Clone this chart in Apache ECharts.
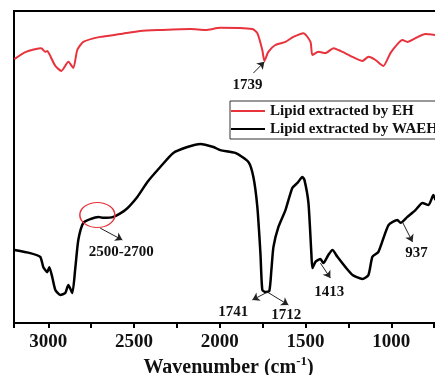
<!DOCTYPE html>
<html>
<head>
<meta charset="utf-8">
<script src="https://cdn.jsdelivr.net/npm/echarts@6/dist/echarts.min.js"></script>
<style>
  html, body { margin: 0; padding: 0; background: #fff; }
  #ftirChart { width: 435px; height: 375px; }
</style>
</head>
<body>
<div id="ftirChart"></div>
<script>
// spectra (transmittance, arbitrary units 0-100)
const ehWavenumber = [3198, 3130, 3041, 3018, 3006, 2994, 2959, 2924, 2883, 2854, 2831, 2796, 2697, 2580, 2463, 2347, 2172, 2084, 1997, 1810, 1781, 1752, 1740, 1717, 1676, 1617, 1571, 1512, 1471, 1460, 1425, 1384, 1337, 1296, 1226, 1168, 1133, 1092, 1046, 1005, 964, 935, 906, 859, 801, 742];
const ehSignal = [84.6, 86.9, 88.1, 86.9, 87.2, 86.2, 82.4, 80.8, 83.7, 81.7, 87.5, 90.1, 91.7, 92.6, 93.6, 93.9, 94.2, 93.9, 94.6, 94.2, 92.9, 87.5, 84.0, 86.9, 89.1, 90.1, 91.7, 92.9, 90.1, 85.9, 86.9, 86.5, 88.1, 87.2, 85.3, 84.0, 85.3, 84.3, 82.4, 86.5, 89.4, 90.7, 90.1, 91.3, 92.6, 92.3];

const waehWavenumber = [3198, 3105, 3047, 3029, 3006, 2994, 2977, 2959, 2930, 2901, 2883, 2860, 2842, 2825, 2796, 2755, 2708, 2679, 2621, 2551, 2481, 2422, 2347, 2271, 2189, 2113, 2037, 1997, 1909, 1833, 1804, 1781, 1763, 1752, 1734, 1711, 1699, 1687, 1658, 1617, 1577, 1547, 1518, 1506, 1483, 1466, 1460, 1442, 1413, 1396, 1367, 1343, 1314, 1267, 1226, 1168, 1133, 1110, 1075, 1016, 964, 946, 906, 859, 818, 783, 754, 742];
const waehSignal = [23.4, 22.4, 21.2, 17.9, 16.3, 17.9, 14.7, 10.6, 9.0, 9.6, 12.2, 9.6, 17.9, 26.6, 32.1, 33.3, 34.0, 33.7, 34.0, 36.2, 40.4, 45.2, 50.0, 54.5, 56.4, 57.4, 56.4, 55.4, 54.5, 51.6, 46.8, 37.2, 22.4, 10.6, 9.9, 10.3, 17.0, 24.4, 30.8, 36.2, 43.3, 44.9, 46.8, 45.8, 38.5, 22.4, 17.6, 19.6, 20.5, 19.2, 21.8, 23.4, 21.2, 17.9, 15.4, 14.1, 15.4, 21.2, 22.8, 31.4, 33.0, 32.1, 34.0, 36.2, 38.5, 37.8, 41.0, 39.4];

const xTicks = [3000, 2500, 2000, 1500, 1000];

const seriesNames = ['Lipid extracted by EH', 'Lipid extracted by WAEH'];

const serif = '"Times New Roman", "Liberation Serif", serif';
const red = '#e8323c';

const zip = (xs, ys) => xs.map((x, i) => [x, ys[i]]);

const arrow = (from, to) => [
  { coord: from, symbol: 'none' },
  { coord: to, symbol: 'arrow' }
];

const note = (text, coord) => ({
  coord: coord,
  symbol: 'circle',
  symbolSize: 0,
  label: {
    show: true,
    position: 'inside',
    formatter: text,
    color: '#111',
    fontFamily: serif,
    fontWeight: 'bold',
    fontSize: 15
  }
});

const markLineStyle = {
  silent: true,
  animation: false,
  symbolSize: 7,
  lineStyle: { color: '#222', width: 1, type: 'solid' },
  label: { show: false }
};

const chart = echarts.init(document.getElementById('ftirChart'));

const option = {
  animation: false,
  grid: {
    left: 14,
    top: 11,
    bottom: 52,
    right: -42,
    outerBoundsMode: 'none',
    containLabel: false,
    show: true,
    borderColor: '#000',
    borderWidth: 2
  },
  legend: {
    orient: 'vertical',
    left: 230,
    top: 101,
    icon: 'rect',
    itemWidth: 34,
    itemHeight: 2,
    itemGap: 2,
    padding: [2, 30, 2, 1],
    borderColor: '#333',
    borderWidth: 1,
    textStyle: {
      fontFamily: serif,
      fontWeight: 'bold',
      fontSize: 15,
      lineHeight: 16,
      color: '#111'
    },
    data: seriesNames
  },
  xAxis: {
    type: 'value',
    inverse: true,
    min: 500,
    max: 3200,
    interval: 250,
    axisLine: { show: true, lineStyle: { color: '#000', width: 2 } },
    axisTick: { show: true, length: 5, lineStyle: { color: '#000', width: 2 } },
    splitLine: { show: false },
    axisLabel: {
      margin: 10,
      color: '#111',
      fontFamily: serif,
      fontWeight: 'bold',
      fontSize: 19,
      formatter: value => (xTicks.includes(value) ? String(value) : '')
    },
    name: '{a|Wavenumber (cm}{s|-1}{a|)}',
    nameLocation: 'middle',
    nameGap: 32,
    nameMoveOverlap: false,
    nameTextStyle: {
      padding: [0, 34, 0, 0],
      rich: {
        a: { fontFamily: serif, fontWeight: 'bold', fontSize: 20, color: '#111' },
        s: { fontFamily: serif, fontWeight: 'bold', fontSize: 13, color: '#111', verticalAlign: 'bottom', padding: [0, 0, 12, 0] }
      }
    }
  },
  yAxis: {
    type: 'value',
    min: 0,
    max: 100,
    axisLine: { show: true, lineStyle: { color: '#000', width: 2 } },
    axisTick: { show: false },
    axisLabel: { show: false },
    splitLine: { show: false }
  },
  series: [
    {
      name: seriesNames[0],
      type: 'line',
      symbol: 'none',
      smooth: 0.2,
      color: red,
      lineStyle: { color: red, width: 2 },
      data: zip(ehWavenumber, ehSignal),
      markLine: Object.assign({}, markLineStyle, {
        data: [arrow([1804, 80.1], [1740, 83.7])]
      }),
      markPoint: {
        silent: true,
        data: [note('1739', [1839, 76.3])]
      }
    },
    {
      name: seriesNames[1],
      type: 'line',
      symbol: 'none',
      smooth: 0.2,
      color: '#000',
      lineStyle: { color: '#000', width: 2.5 },
      data: zip(waehWavenumber, waehSignal),
      markLine: Object.assign({}, markLineStyle, {
        data: [
          arrow([2697, 30.4], [2568, 26.6]),
          arrow([1722, 9.9], [1810, 7.4]),
          arrow([1722, 9.9], [1600, 5.8]),
          arrow([1413, 19.2], [1355, 14.4]),
          arrow([935, 32.4], [876, 26.0])
        ]
      }),
      markPoint: {
        silent: true,
        data: [
          {
            coord: [2714, 34.6],
            symbol: 'circle',
            symbolSize: [35, 25],
            itemStyle: { color: 'rgba(0,0,0,0)', borderColor: red, borderWidth: 1.3 },
            label: { show: false }
          },
          note('2500-2700', [2574, 22.8]),
          note('1741', [1921, 3.5]),
          note('1712', [1612, 2.6]),
          note('1413', [1361, 9.9]),
          note('937', [853, 22.4])
        ]
      }
    }
  ]
};

chart.setOption(option);
</script>
</body>
</html>
